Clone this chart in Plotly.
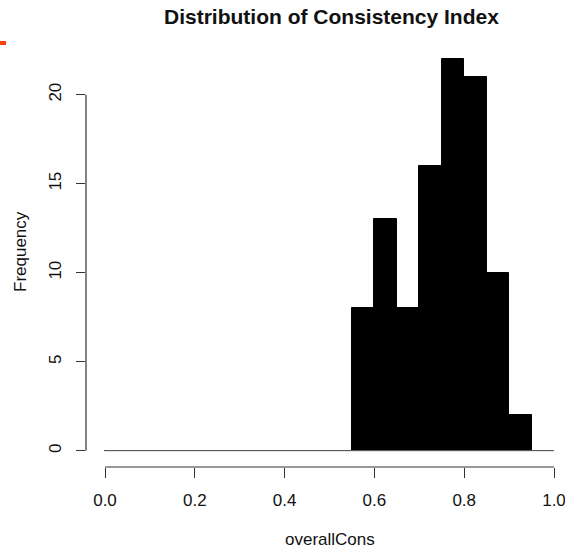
import plotly.graph_objects as go

# Histogram of overallCons: bin edges and frequencies
bin_edges = [0.00, 0.05, 0.10, 0.15, 0.20, 0.25, 0.30, 0.35, 0.40, 0.45, 0.50,
             0.55, 0.60, 0.65, 0.70, 0.75, 0.80, 0.85, 0.90, 0.95, 1.00]
counts = [0, 0, 0, 0, 0, 0, 0, 0, 0, 0, 0,
          8, 13, 8, 16, 22, 21, 10, 2, 0]

x_ticks = [0.0, 0.2, 0.4, 0.6, 0.8, 1.0]
x_tick_labels = ["0.0", "0.2", "0.4", "0.6", "0.8", "1.0"]
y_ticks = [0, 5, 10, 15, 20]
y_tick_labels = ["0", "5", "10", "15", "20"]

title_text = "Distribution of Consistency Index"
x_label = "overallCons"
y_label = "Frequency"

FONT = "Liberation Sans, Arial, sans-serif"
INK = "#111111"
AXIS_COLOR = "#333333"

# Page and plot-area geometry (pixels)
W, H = 565, 550
L, R, T, B = 86, 0, 40, 83
plot_w = W - L - R
plot_h = H - T - B
x_origin_px, x_scale = 105.0, 449.0   # pixel of x=0, pixels per unit
y_origin_px, y_scale = 450.7, 17.8    # pixel of y=0, pixels per count

x_lo = (L - x_origin_px) / x_scale
x_hi = x_lo + plot_w / x_scale
y_lo = -((H - B) - y_origin_px) / y_scale
y_hi = y_lo + plot_h / y_scale


def paper(px, py):
    return (px - L) / plot_w, ((H - B) - py) / plot_h


mids = [(a + b) / 2 for a, b in zip(bin_edges[:-1], bin_edges[1:])]
widths = [b - a for a, b in zip(bin_edges[:-1], bin_edges[1:])]

fig = go.Figure()

# outline of the empty bins along zero
fig.add_trace(go.Scatter(
    x=[bin_edges[0], bin_edges[-1]], y=[0, 0], mode="lines",
    line=dict(color="#6f6f6f", width=1), hoverinfo="skip", showlegend=False))

fig.add_trace(go.Bar(
    x=mids, y=counts, width=widths,
    marker=dict(color="black", line=dict(color="black", width=1)),
    showlegend=False))

shapes = [
    # x axis line spanning the tick range
    dict(type="line", xref="x", yref="paper",
         x0=x_ticks[0], x1=x_ticks[-1], y0=0, y1=0,
         line=dict(color=AXIS_COLOR, width=1.2)),
    # y axis line spanning the tick range
    dict(type="line", xref="paper", yref="y",
         x0=0, x1=0, y0=y_ticks[0], y1=y_ticks[-1],
         line=dict(color=AXIS_COLOR, width=1.2)),
]
mx0, my0 = paper(0, 41)
mx1, my1 = paper(6, 45)
shapes.append(dict(type="rect", xref="paper", yref="paper",
                   x0=mx0, x1=mx1, y0=my1, y1=my0,
                   fillcolor="#f4410f", line=dict(width=0)))

annotations = []
tx, ty = paper(331, 17)
annotations.append(dict(text="<b>" + title_text + "</b>", x=tx, y=ty,
                        xref="paper", yref="paper", showarrow=False,
                        xanchor="center", yanchor="middle",
                        font=dict(family=FONT, size=21, color=INK)))
ax, ay = paper(329.5, 539)
annotations.append(dict(text=x_label, x=ax, y=ay, xref="paper", yref="paper",
                        showarrow=False, xanchor="center", yanchor="middle",
                        font=dict(family=FONT, size=17, color=INK)))
bx, by = paper(20, 252)
annotations.append(dict(text=y_label, x=bx, y=by, xref="paper", yref="paper",
                        showarrow=False, xanchor="center", yanchor="middle",
                        textangle=-90,
                        font=dict(family=FONT, size=17, color=INK)))

fig.update_layout(
    width=W, height=H,
    margin=dict(l=L, r=R, t=T, b=B, pad=0),
    paper_bgcolor="white", plot_bgcolor="white",
    bargap=0, showlegend=False,
    shapes=shapes, annotations=annotations,
    xaxis=dict(range=[x_lo, x_hi], showgrid=False, zeroline=False,
               showline=False, ticks="outside", ticklen=9.5, tickwidth=1.2,
               tickcolor=AXIS_COLOR, tickvals=x_ticks, ticktext=x_tick_labels,
               tickfont=dict(family=FONT, size=17, color=INK),
               ticklabelstandoff=8, ticklabeloverflow="allow",
               fixedrange=True),
    yaxis=dict(range=[y_lo, y_hi], showgrid=False, zeroline=False,
               showline=False, ticks="outside", ticklen=9.5, tickwidth=1.2,
               tickcolor=AXIS_COLOR, tickvals=y_ticks, ticktext=y_tick_labels,
               tickangle=-90,
               tickfont=dict(family=FONT, size=17, color=INK),
               ticklabelstandoff=8, ticklabeloverflow="allow",
               fixedrange=True),
)

fig.write_html("out.html")
